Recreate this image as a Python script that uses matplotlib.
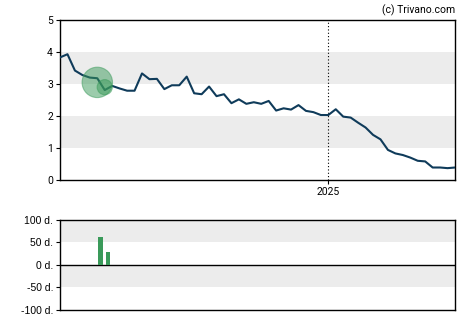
import matplotlib
matplotlib.use('Agg')
import matplotlib.pyplot as plt
import matplotlib.dates as mdates
import pandas as pd

plt.rcParams['font.family'] = ['Roboto', 'DejaVu Sans']

# weekly closing prices
start_date = '2024-04-24'
prices = [3.83, 3.93, 3.42, 3.28, 3.20, 3.18, 2.81, 2.94, 2.86, 2.79,
          2.79, 3.33, 3.15, 3.16, 2.84, 2.96, 2.96, 3.23, 2.71, 2.68,
          2.92, 2.62, 2.68, 2.40, 2.52, 2.38, 2.43, 2.38, 2.47, 2.17,
          2.24, 2.20, 2.34, 2.16, 2.12, 2.03, 2.03, 2.21, 1.98, 1.95,
          1.79, 1.64, 1.41, 1.27, 0.94, 0.83, 0.78, 0.70, 0.60, 0.58,
          0.39, 0.39, 0.37, 0.39]
dates = pd.date_range(start_date, periods=len(prices), freq='7D')

# event markers (date, value, size)
marker_dates = pd.to_datetime(['2024-05-29', '2024-06-05'])
marker_values = [3.05, 2.90]
marker_sizes = [480, 120]

# bottom bars (days)
bar_dates = pd.to_datetime(['2024-06-01', '2024-06-08'])
bar_values = [62, 29]

y_ticks = [0, 1, 2, 3, 4, 5]
bar_ticks = [100, 50, 0, -50, -100]
bar_tick_labels = ['100 d.', '50 d.', '0 d.', '-50 d.', '-100 d.']

line_color = '#0f3b5a'
green = '#3a9a5a'
band = '#ececec'

fig = plt.figure(figsize=(4.7, 3.25), dpi=100)
ax = fig.add_axes([0.1277, 0.4462, 0.8404, 0.4923])
ax2 = fig.add_axes([0.1277, 0.0462, 0.8404, 0.2769])

xmin, xmax = dates[0], dates[-1]

# top chart
ax.axhspan(1, 2, color=band, lw=0, zorder=0)
ax.axhspan(3, 4, color=band, lw=0, zorder=0)
ax.plot(dates, prices, color=line_color, lw=1.5, zorder=3)
ax.scatter(marker_dates, marker_values, s=marker_sizes, color=green,
           alpha=0.5, edgecolor=green, lw=0.8, zorder=4)
ax.axvline(pd.Timestamp('2025-01-01'), color='black', ls=(0, (1, 2)), lw=0.8, zorder=2)
ax.set_xlim(xmin, xmax)
ax.set_ylim(0, 5)
ax.set_yticks(y_ticks)
ax.set_xticks([pd.Timestamp('2025-01-01')])
ax.xaxis.set_major_formatter(mdates.DateFormatter('%Y'))
ax.tick_params(labelsize=7.5, length=3, width=0.8, pad=2)
for s in ax.spines.values():
    s.set_linewidth(1.0)
fig.text(0.968, 0.985, '(c) Trivano.com', ha='right', va='top', fontsize=7.5)

# bottom chart
ax2.axhspan(50, 100, color=band, lw=0, zorder=0)
ax2.axhspan(-50, 0, color=band, lw=0, zorder=0)
ax2.bar(bar_dates, bar_values, width=4.4, color=green, zorder=3)
ax2.axhline(0, color='black', lw=1.0, zorder=2)
ax2.set_xlim(xmin, xmax)
ax2.set_ylim(-100, 100)
ax2.set_yticks(bar_ticks)
ax2.set_yticklabels(bar_tick_labels, family=['Liberation Sans', 'DejaVu Sans'])
ax2.set_xticks([])
ax2.tick_params(labelsize=7.5, length=3, width=0.8, pad=2)
for s in ax2.spines.values():
    s.set_linewidth(1.0)

fig.savefig('out.png', dpi=100, facecolor='white')
